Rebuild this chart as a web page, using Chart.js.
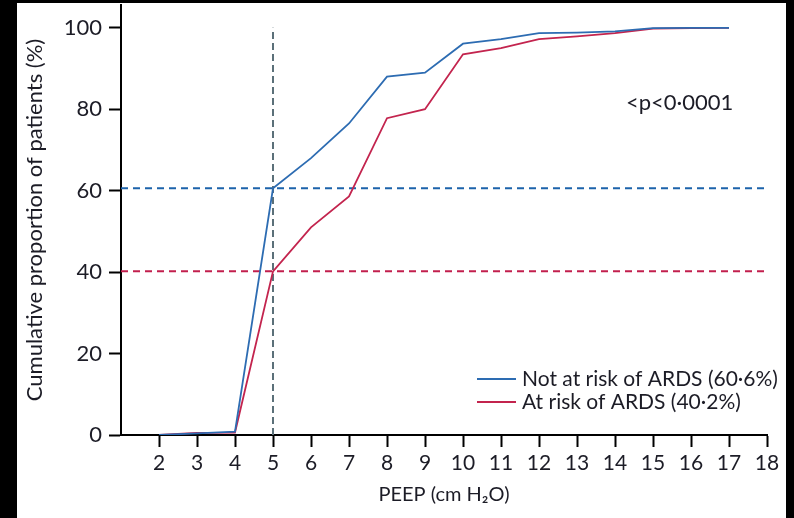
<!DOCTYPE html>
<html>
<head>
<meta charset="utf-8">
<script src="https://cdn.jsdelivr.net/npm/chart.js@4.4.0/dist/chart.umd.min.js"></script>
<style>
  html, body { margin: 0; padding: 0; background: #000; }
  #wrap { position: absolute; left: 17px; top: 3px; width: 769px; height: 515px; background: #fff; }
</style>
</head>
<body>
<div id="wrap"><canvas id="peepChart" width="769" height="515"></canvas></div>
<script>
// ── PEEP cumulative distribution, by ARDS risk group ──

const peep       = [2, 3, 4, 5, 6, 7, 8, 9, 10, 11, 12, 13, 14, 15, 16, 17];
const notAtRisk  = [0, 0.4, 0.8, 60.6, 68.0, 76.5, 88.0, 89.0, 96.1, 97.2, 98.7, 98.8, 99.1, 99.9, 100, 100];
const atRisk     = [0, 0.5, 0.6, 40.2, 51.0, 58.6, 77.8, 80.0, 93.5, 95.0, 97.2, 97.9, 98.7, 99.8, 99.9, 100];
const groupNames = ['Not at risk of ARDS (60·6%)', 'At risk of ARDS (40·2%)'];
const xTicks     = [2, 3, 4, 5, 6, 7, 8, 9, 10, 11, 12, 13, 14, 15, 16, 17, 18];
const yTicks     = [0, 20, 40, 60, 80, 100];
const refPeep    = 5;
const pValue     = '<p<0·0001';

const BLUE = '#2d6cb2';
const RED  = '#c3244e';
const FONT = 'Lato, "Open Sans", sans-serif';
const INK  = '#1c1c26';

const pts = ys => peep.map((x, i) => ({ x, y: ys[i] }));

// dashed reference lines: share of each group at PEEP 5
const hLine = (y) => [{ x: 1, y }, { x: 18, y }];

// Legend drawn inside the plot, lower right
const innerLegend = {
  id: 'innerLegend',
  afterDraw(chart) {
    const { ctx, chartArea: { right, bottom } } = chart;
    const colors = [BLUE, RED];
    ctx.save();
    ctx.font = '21px ' + FONT;
    ctx.textBaseline = 'middle';
    ctx.textAlign = 'left';
    groupNames.forEach((name, i) => {
      const y = bottom - 56 + i * 23;
      ctx.strokeStyle = colors[i];
      ctx.lineWidth = 2;
      ctx.beginPath();
      ctx.moveTo(right - 290, y);
      ctx.lineTo(right - 251, y);
      ctx.stroke();
      ctx.fillStyle = INK;
      ctx.fillText(name, right - 245, y);
    });

    // p-value note
    const xs = chart.scales.x, ys = chart.scales.y;
    ctx.textAlign = 'center';
    ctx.font = '22px ' + FONT;
    ctx.fillText(pValue, xs.getPixelForValue(15.7), ys.getPixelForValue(81.6));
    ctx.restore();
  }
};

new Chart(document.getElementById('peepChart'), {
  type: 'line',
  data: {
    datasets: [
      { label: groupNames[0], data: pts(notAtRisk), borderColor: BLUE, borderWidth: 1.8, pointRadius: 0, tension: 0 },
      { label: groupNames[1], data: pts(atRisk), borderColor: RED, borderWidth: 1.8, pointRadius: 0, tension: 0 },
      { data: hLine(notAtRisk[peep.indexOf(refPeep)]), borderColor: '#1c63ab', borderWidth: 2, borderDash: [7, 5], pointRadius: 0 },
      { data: hLine(atRisk[peep.indexOf(refPeep)]), borderColor: '#c21f4d', borderWidth: 2, borderDash: [7, 5], pointRadius: 0 },
      { data: [{ x: refPeep, y: 0 }, { x: refPeep, y: 100 }], borderColor: '#5b7079', borderWidth: 2, borderDash: [7, 4], pointRadius: 0 }
    ]
  },
  options: {
    responsive: false,
    devicePixelRatio: 1,
    animation: false,
    layout: { padding: { top: 2, right: 19, left: 0, bottom: 0 } },
    plugins: {
      legend: { display: false },
      tooltip: { enabled: false }
    },
    scales: {
      x: {
        type: 'linear',
        min: 1,
        max: 18,
        afterBuildTicks: s => { s.ticks = xTicks.map(v => ({ value: v })); },
        afterFit: s => { s.height = 83; s.paddingLeft = 0; s.paddingRight = 0; },
        border: { color: '#000', width: 2 },
        grid: { drawOnChartArea: false, drawTicks: true, tickLength: 12, tickWidth: 2, tickColor: '#000' },
        ticks: { color: INK, font: { family: FONT, size: 21 }, padding: 4, maxRotation: 0, autoSkip: false },
        title: {
          display: true,
          text: 'PEEP (cm H₂O)',
          color: INK,
          font: { family: FONT, size: 20 },
          padding: { top: 0, bottom: 11 }
        }
      },
      y: {
        min: 0,
        max: 105.6,
        afterBuildTicks: s => { s.ticks = yTicks.map(v => ({ value: v })); },
        afterFit: s => { s.width = 104; s.paddingTop = 0; s.paddingBottom = 0; },
        border: { color: '#000', width: 2 },
        grid: { drawOnChartArea: false, drawTicks: true, tickLength: 12, tickWidth: 2, tickColor: '#000' },
        ticks: { color: INK, font: { family: FONT, size: 22 }, padding: 7 },
        title: {
          display: true,
          text: 'Cumulative proportion of patients (%)',
          color: INK,
          font: { family: FONT, size: 22 },
          padding: { top: 5, bottom: 0 }
        }
      }
    }
  },
  plugins: [innerLegend]
});
</script>
</body>
</html>
